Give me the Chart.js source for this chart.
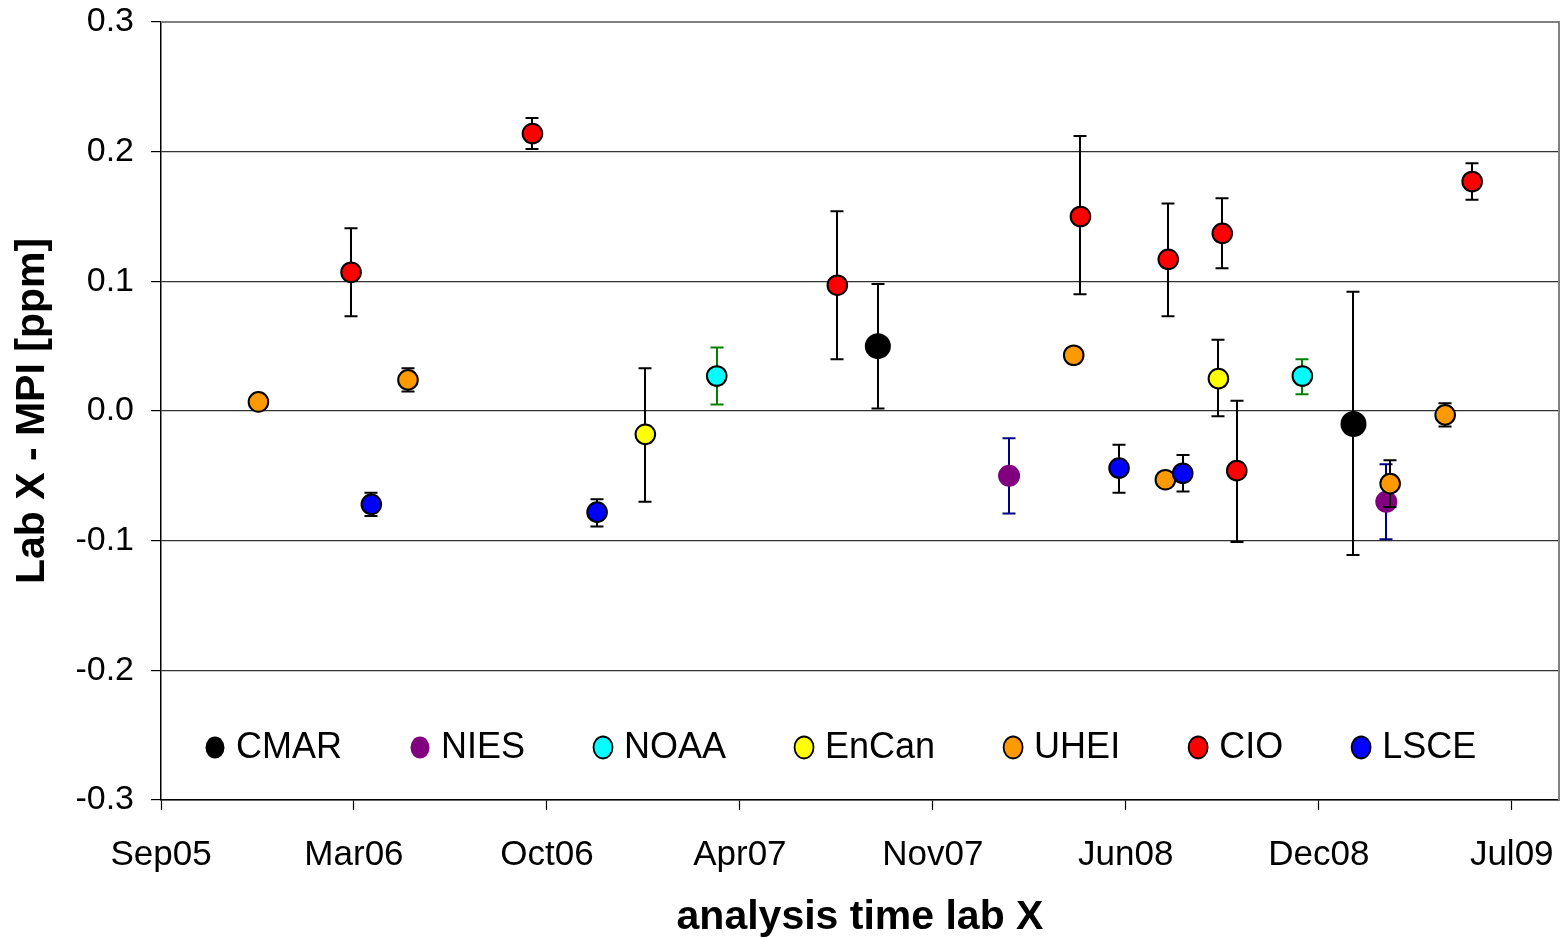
<!DOCTYPE html>
<html>
<head>
<meta charset="utf-8">
<script src="https://cdn.jsdelivr.net/npm/chart.js@4.4.1/dist/chart.umd.min.js"></script>
<style>
  html, body { margin: 0; padding: 0; background: #fff; }
  #wrap { width: 1566px; height: 939px; }
</style>
</head>
<body>
<div id="wrap"><canvas id="c" width="1566" height="939"></canvas></div>
<script>
// ---- data (x = days since the axis start, Sep05) ----
const xTickDays   = [0, 200, 400, 600, 800, 1000, 1200, 1400];
const xTickLabels = ["Sep05", "Mar06", "Oct06", "Apr07", "Nov07", "Jun08", "Dec08", "Jul09"];
const yTickValues = [-0.3, -0.2, -0.1, 0.0, 0.1, 0.2, 0.3];

const labNames = ["CMAR", "NIES", "NOAA", "EnCan", "UHEI", "CIO", "LSCE"];

const cmarDays = [743, 1236];
const cmarVals = [0.050, -0.010];
const cmarLow  = [0.002, -0.111];
const cmarHigh = [0.098, 0.092];

const niesDays = [879, 1270];
const niesVals = [-0.050, -0.070];
const niesLow  = [-0.079, -0.099];
const niesHigh = [-0.021, -0.041];

const noaaDays = [576, 1183];
const noaaVals = [0.027, 0.027];
const noaaLow  = [0.005, 0.013];
const noaaHigh = [0.049, 0.040];

const encanDays = [502, 1096];
const encanVals = [-0.018, 0.025];
const encanLow  = [-0.070, -0.004];
const encanHigh = [0.033, 0.055];

const uheiDays = [101, 256, 946, 1041, 1274, 1331];
const uheiVals = [0.007, 0.024, 0.043, -0.053, -0.056, -0.003];
const uheiLow  = [null, 0.015, null, null, -0.074, -0.012];
const uheiHigh = [null, 0.033, null, null, -0.038, 0.006];

const cioDays = [197, 385, 701, 953, 1044, 1100, 1115, 1359];
const cioVals = [0.107, 0.214, 0.097, 0.150, 0.117, 0.137, -0.046, 0.177];
const cioLow  = [0.073, 0.202, 0.040, 0.090, 0.073, 0.110, -0.101, 0.163];
const cioHigh = [0.141, 0.226, 0.154, 0.212, 0.160, 0.164, 0.008, 0.191];

const lsceDays = [218, 452, 993, 1059];
const lsceVals = [-0.072, -0.078, -0.044, -0.048];
const lsceLow  = [-0.081, -0.089, -0.063, -0.062];
const lsceHigh = [-0.063, -0.068, -0.026, -0.034];

// ---- styles ----
const FONT = "'Liberation Sans', Arial, Helvetica, sans-serif";
const seriesStyle = [
  { fill: "#000000", border: "#000000", bw: 0, r: 13,  err: "#000000" },
  { fill: "#800080", border: "#800080", bw: 0, r: 11,  err: "#000080" },
  { fill: "#00FFFF", border: "#000000", bw: 2, r: 9.8, err: "#008000" },
  { fill: "#FFFF00", border: "#000000", bw: 2, r: 9.8, err: "#000000" },
  { fill: "#FF9900", border: "#000000", bw: 2, r: 9.8, err: "#000000" },
  { fill: "#FF0000", border: "#000000", bw: 2, r: 9.8, err: "#000000" },
  { fill: "#0000FF", border: "#000000", bw: 2, r: 9.8, err: "#000000" }
];

const seriesData = [
  [cmarDays, cmarVals, cmarLow, cmarHigh],
  [niesDays, niesVals, niesLow, niesHigh],
  [noaaDays, noaaVals, noaaLow, noaaHigh],
  [encanDays, encanVals, encanLow, encanHigh],
  [uheiDays, uheiVals, uheiLow, uheiHigh],
  [cioDays, cioVals, cioLow, cioHigh],
  [lsceDays, lsceVals, lsceLow, lsceHigh]
];

const datasets = labNames.map((name, i) => {
  const [d, v, lo, hi] = seriesData[i];
  const s = seriesStyle[i];
  return {
    label: name,
    data: d.map((x, k) => ({ x: x, y: v[k], lo: lo[k], hi: hi[k] })),
    backgroundColor: s.fill,
    borderColor: s.border,
    pointBackgroundColor: s.fill,
    pointBorderColor: s.border,
    pointBorderWidth: s.bw,
    pointRadius: s.r,
    pointHoverRadius: s.r,
    showLine: false,
    order: labNames.length - 1 - i,
    errColor: s.err
  };
});

// error bars drawn just before each dataset's points
const errorBars = {
  id: "errorBars",
  beforeDatasetDraw(chart, args) {
    const ds = chart.data.datasets[args.index];
    const xs = chart.scales.x, ys = chart.scales.y;
    const ctx = chart.ctx;
    ctx.save();
    ctx.strokeStyle = ds.errColor;
    ctx.lineWidth = 2;
    const cap = 6.5;
    ds.data.forEach(p => {
      if (p.lo == null || p.hi == null) return;
      const px = Math.round(xs.getPixelForValue(p.x));
      const yl = ys.getPixelForValue(p.lo);
      const yh = ys.getPixelForValue(p.hi);
      ctx.beginPath();
      ctx.moveTo(px, yl); ctx.lineTo(px, yh);
      ctx.moveTo(px - cap, yl); ctx.lineTo(px + cap, yl);
      ctx.moveTo(px - cap, yh); ctx.lineTo(px + cap, yh);
      ctx.stroke();
    });
    ctx.restore();
  }
};

// grey plot-area frame on top and right
const frame = {
  id: "frame",
  beforeDatasetsDraw(chart) {
    const a = chart.chartArea, ctx = chart.ctx;
    ctx.save();
    ctx.strokeStyle = "#808080";
    ctx.lineWidth = 2;
    ctx.beginPath();
    ctx.moveTo(a.left, a.top);
    ctx.lineTo(a.right, a.top);
    ctx.lineTo(a.right, a.bottom);
    ctx.stroke();
    ctx.restore();
  }
};

// legend inside the plot area, near the bottom
const innerLegend = {
  id: "innerLegend",
  afterDraw(chart) {
    const a = chart.chartArea, ctx = chart.ctx;
    const ys = chart.scales.y;
    ctx.save();
    ctx.font = "36px " + FONT;
    ctx.textBaseline = "middle";
    ctx.textAlign = "left";
    const cy = ys.getPixelForValue(-0.2595);
    let mx = a.left + 54;
    chart.data.datasets.forEach((ds, i) => {
      const s = seriesStyle[i];
      ctx.beginPath();
      ctx.ellipse(mx, cy, 9.5, 11, 0, 0, Math.PI * 2);
      ctx.fillStyle = s.fill;
      ctx.fill();
      if (s.bw > 0) {
        ctx.lineWidth = 1.8;
        ctx.strokeStyle = s.border;
        ctx.stroke();
      }
      ctx.fillStyle = "#000";
      const tx = mx + 21;
      ctx.fillText(ds.label, tx, cy + 1);
      mx = tx + ctx.measureText(ds.label).width + 78;
    });
    ctx.restore();
  }
};

new Chart(document.getElementById("c"), {
  type: "scatter",
  data: { datasets: datasets },
  plugins: [frame, errorBars, innerLegend],
  options: {
    responsive: false,
    animation: false,
    events: [],
    layout: { autoPadding: false, padding: { left: 0, right: 7, top: 22, bottom: 0 } },
    plugins: { legend: { display: false }, tooltip: { enabled: false } },
    scales: {
      x: {
        type: "linear",
        min: 0,
        max: 1449,
        afterBuildTicks: (scale) => { scale.ticks = xTickDays.map(v => ({ value: v })); },
        afterFit: (scale) => {
          scale.height = 139;
          scale.paddingLeft = 0; scale.paddingRight = 0;
          scale.paddingTop = 0; scale.paddingBottom = 0;
        },
        ticks: {
          autoSkip: false,
          maxRotation: 0,
          padding: 24,
          color: "#000",
          font: { family: FONT, size: 35 },
          callback: (v) => xTickLabels[xTickDays.indexOf(v)]
        },
        grid: { display: true, drawOnChartArea: false, drawTicks: true, tickLength: 10, tickColor: "#000", tickWidth: 1.2 },
        border: { display: true, color: "#000", width: 1.5 },
        title: {
          display: true,
          text: "analysis time lab X",
          color: "#000",
          font: { family: FONT, size: 41, weight: "bold", lineHeight: 1.05 },
          padding: { top: 0, bottom: 0 }
        }
      },
      y: {
        type: "linear",
        min: -0.3,
        max: 0.3,
        afterBuildTicks: (scale) => { scale.ticks = yTickValues.map(v => ({ value: v })); },
        afterFit: (scale) => {
          scale.width = 161;
          scale.paddingTop = 0; scale.paddingBottom = 0;
          scale.paddingLeft = 0; scale.paddingRight = 0;
        },
        ticks: {
          padding: 17,
          color: "#000",
          font: { family: FONT, size: 34 },
          callback: (v) => v.toFixed(1)
        },
        grid: {
          drawOnChartArea: true,
          drawTicks: true,
          tickLength: 10,
          tickColor: "#000",
          tickWidth: 1.2,
          lineWidth: 1.2,
          color: (ctx) => (ctx.tick && Math.abs(ctx.tick.value - 0.3) < 1e-9) ? "#808080" : "#333333"
        },
        border: { display: true, color: "#000", width: 1.5 },
        title: {
          display: true,
          text: "Lab X - MPI [ppm]",
          color: "#000",
          font: { family: FONT, size: 41, weight: "bold", lineHeight: 1.05 },
          padding: { top: 11, bottom: 0 }
        }
      }
    }
  }
});
</script>
</body>
</html>
